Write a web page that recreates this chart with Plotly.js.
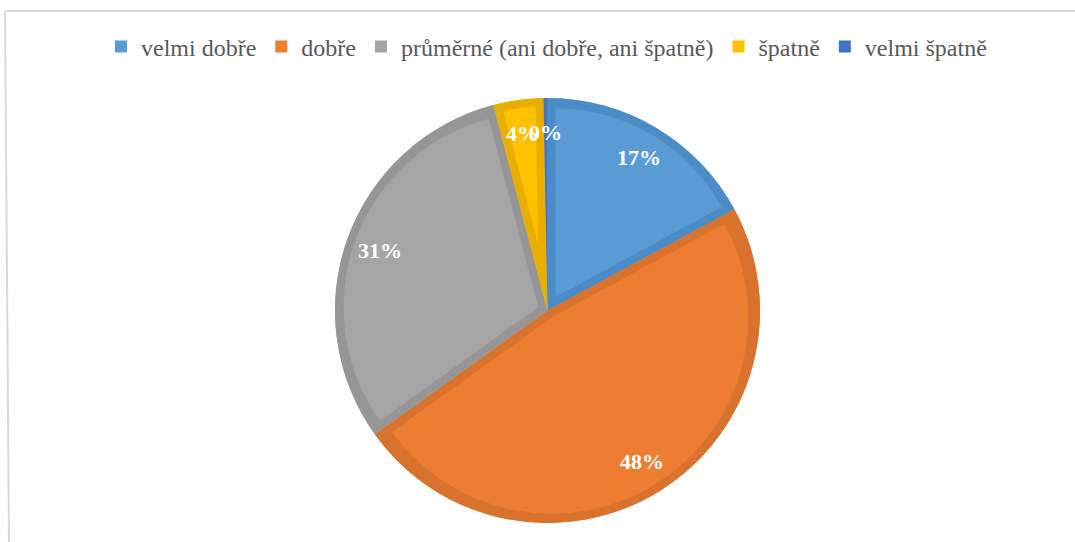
<!DOCTYPE html>
<html><head><meta charset="utf-8">
<script src="https://cdn.plot.ly/plotly-3.0.1.min.js"></script>
<style>html,body{margin:0;padding:0;background:#fff;} #chart{width:1075px;height:542px;}</style>
</head><body><div id="chart"></div>
<script>
const categories = ['velmi dobře', 'dobře', 'průměrné (ani dobře, ani špatně)', 'špatně', 'velmi špatně'];
const shares = [17.1, 48.0, 30.8, 3.8, 0.3];
const fillColors = ['#5B9BD5', '#ED7D31', '#A5A5A5', '#FFC000', '#4472C4'];
const bandColors = ['#4C8CC6', '#D8722C', '#969696', '#E8AF00', '#4472C4'];

const W = 1075, H = 542;
const CX = 547.5, CY = 310.5, R = 212.5, BAND = 8;
const inner = R - BAND;
const dom = {x: [(CX - R) / W, (CX + R) / W], y: [1 - (CY + R) / H, 1 - (CY - R) / H]};
const domIn = {x: [(CX - inner) / W, (CX + inner) / W], y: [1 - (CY + inner) / H, 1 - (CY - inner) / H]};
const total = shares.reduce((a, b) => a + b, 0);

const base = {type: 'pie', labels: categories, values: shares, sort: false,
  direction: 'clockwise', rotation: 0, textinfo: 'none', hoverinfo: 'label+percent'};
const data = [];
// legend carrier (hidden under the band layer)
data.push(Object.assign({}, base, {domain: dom, marker: {colors: fillColors, line: {width: 0}}, showlegend: true}));
// darker band layer
data.push(Object.assign({}, base, {domain: dom, marker: {colors: bandColors, line: {width: 0}}, showlegend: false}));
// lighter inset slices
shares.forEach((v, i) => {
  const half = Math.PI * v / total;
  const s = BAND / Math.sin(half);
  if (s > inner * 0.6) return;
  const colors = categories.map((c, j) => j === i ? fillColors[i] : 'rgba(0,0,0,0)');
  const pull = categories.map((c, j) => j === i ? s / (inner - s) : 0);
  data.push(Object.assign({}, base, {domain: domIn, marker: {colors: colors, line: {width: 0}},
    pull: pull, showlegend: false, hoverinfo: 'skip'}));
});

let cum = 0;
const annotations = shares.map((v) => {
  const mid = (cum + v / 2) / total; cum += v;
  const th = mid * 2 * Math.PI;
  const rl = R * 0.84;
  return {xref: 'paper', yref: 'paper', x: (CX + rl * Math.sin(th)) / W, y: 1 - (CY - rl * Math.cos(th)) / H,
    text: '<b>' + Math.round(v / total * 100) + '%</b>', showarrow: false,
    xanchor: 'center', yanchor: 'middle',
    font: {family: 'Liberation Serif', size: 22, color: '#ffffff'}};
});

const layout = {
  width: W, height: H,
  margin: {l: 0, r: 0, t: 0, b: 0, pad: 0, autoexpand: false},
  paper_bgcolor: '#ffffff', plot_bgcolor: '#ffffff',
  showlegend: true,
  legend: {orientation: 'h', x: 0.5 + 9 / W, xanchor: 'center', y: 1 - 47 / H, yanchor: 'middle',
    font: {family: 'Liberation Serif', size: 24, color: '#595959'}, bgcolor: 'rgba(0,0,0,0)', traceorder: 'normal'},
  annotations: annotations,
  shapes: [
    {type: 'line', xref: 'paper', yref: 'paper', x0: 5 / W, y0: 1 - 11 / H, x1: 1, y1: 1 - 11 / H, line: {color: '#D9D9D9', width: 2}},
    {type: 'line', xref: 'paper', yref: 'paper', x0: 5 / W, y0: 1 - 11 / H, x1: 9 / W, y1: 0, line: {color: '#D9D9D9', width: 2}}
  ]
};
Plotly.newPlot('chart', data, layout, {displayModeBar: false, staticPlot: true});
</script></body></html>
